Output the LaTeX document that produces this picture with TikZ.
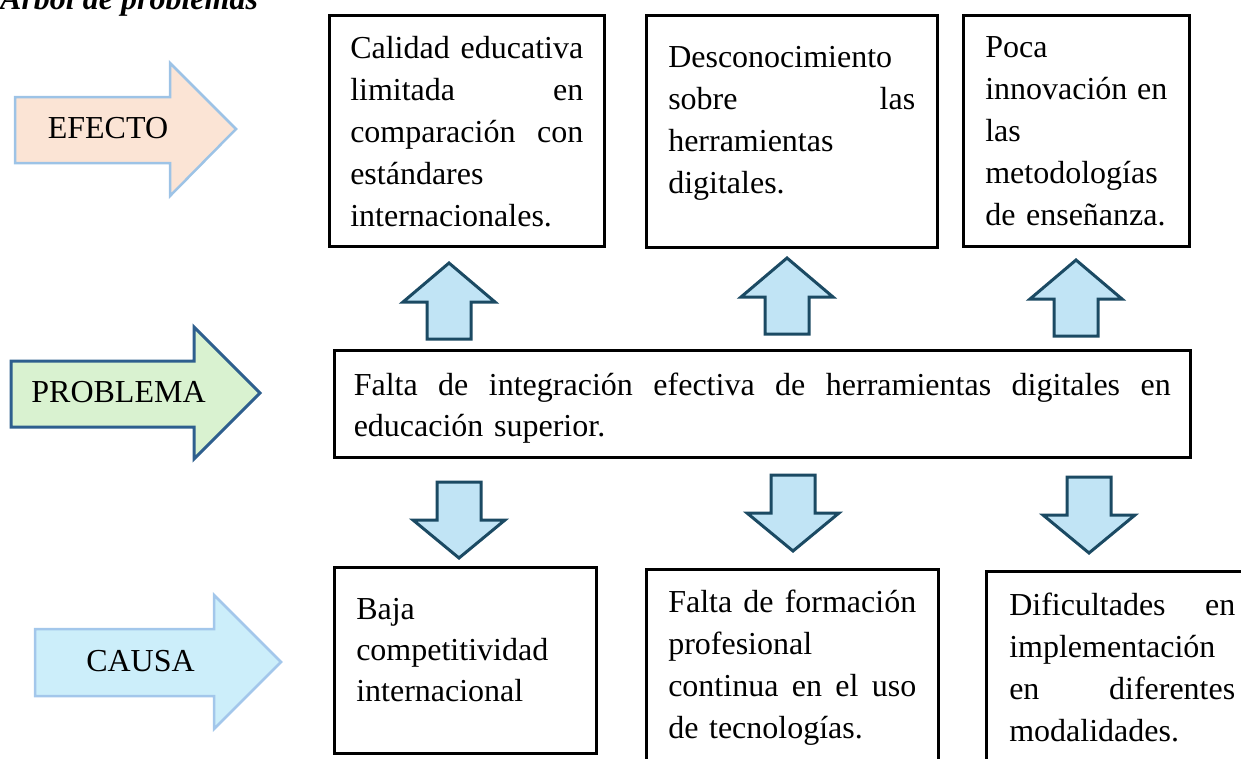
\documentclass[tikz,border=0pt]{standalone}
\usepackage{fontspec}
\setmainfont{Liberation Serif}

\definecolor{efectofill}{HTML}{FBE4D5}
\definecolor{efectodraw}{HTML}{9DC3E6}
\definecolor{problemafill}{HTML}{D9F2D0}
\definecolor{problemadraw}{HTML}{2E5F8E}
\definecolor{causafill}{HTML}{CCEEFA}
\definecolor{causadraw}{HTML}{A3C7EB}
\definecolor{flechafill}{HTML}{C1E4F5}
\definecolor{flechadraw}{HTML}{1B4A63}

\newcommand{\jl}[1]{\makebox[\hsize][s]{\spaceskip=0pt\xspaceskip=0pt #1}}

\tikzset{
  caja/.style={draw=black, line width=2.5pt, anchor=north west, inner ysep=0pt,
    align=left, font=\fontsize{32}{42}\selectfont},
  rotulo/.style={anchor=base, inner sep=0pt, font=\fontsize{32}{38}\selectfont},
  flecha/.style={draw=flechadraw, fill=flechafill, line width=3pt},
}

\begin{document}
\begin{tikzpicture}[x=1pt,y=-1pt]
\useasboundingbox (0,0) rectangle (1241,758);
\clip (0,0) rectangle (1241,758);

\node[anchor=base west, inner sep=0pt, font=\fontsize{32}{38}\selectfont\bfseries\itshape] (titulo) at (0,9) {Árbol de problemas};

% flechas grandes de la izquierda
\draw[fill=efectofill, draw=efectodraw, line width=2.5pt]
  (15,97) -- (170,97) -- (170,63) -- (236,129) -- (170,196) -- (170,163) -- (15,163) -- cycle;
\node[rotulo] (efecto) at (108,138) {EFECTO};
\draw[fill=problemafill, draw=problemadraw, line width=3pt]
  (11,361) -- (194,361) -- (194,327) -- (260,393) -- (194,459) -- (194,427) -- (11,427) -- cycle;
\node[rotulo] (problema) at (118.5,402) {PROBLEMA};
\draw[fill=causafill, draw=causadraw, line width=2.5pt]
  (35,629) -- (214,629) -- (214,595) -- (281,662) -- (214,729) -- (214,696) -- (35,696) -- cycle;
\node[rotulo] (causa) at (140.5,671) {CAUSA};

% efectos
\node[caja, text width=233pt, inner xsep=21pt, text height=43pt, text depth=188pt] (e1) at (328,14)
  {\jl{Calidad educativa}\\ \jl{limitada en}\\ \jl{comparación con}\\ estándares\\ internacionales.};
\node[caja, text width=247pt, inner xsep=22pt, text height=52pt, text depth=180pt] (e2) at (645,14)
  {Desconocimiento\\ \jl{sobre las}\\ herramientas\\ digitales.};
\node[caja, text width=182pt, inner xsep=22pt, text height=42pt, text depth=189pt] (e3) at (962,14)
  {Poca\\ \jl{innovación en}\\ las\\ metodologías\\ de enseñanza.};

% problema
\node[caja, text width=817pt, inner xsep=19.5pt, text height=45pt, text depth=62pt,
  font=\fontsize{32}{41}\selectfont] (p) at (333,349)
  {\jl{Falta de integración efectiva de herramientas digitales en}\\ educación superior.};

% causas
\node[caja, text width=218pt, inner xsep=22pt, text height=52pt, text depth=134pt,
  font=\fontsize{32}{41}\selectfont] (c1) at (333,566)
  {Baja\\ competitividad\\ internacional};
\node[caja, text width=248pt, inner xsep=22pt, text height=43pt, text depth=169pt] (c2) at (645,568)
  {\jl{Falta de formación}\\ profesional\\ \jl{continua en el uso}\\ de tecnologías.};
\node[caja, text width=226pt, inner xsep=23pt, text height=44pt, text depth=166pt] (c3) at (985,570)
  {\jl{Dificultades en}\\ implementación\\ \jl{en diferentes}\\ modalidades.};

% flechas pequenas
\foreach \x/\y in {449/263, 787/258, 1076/260}
  \draw[flecha] (\x,\y) -- ++(46,39) -- ++(-24,0) -- ++(0,37) -- ++(-44,0) -- ++(0,-37) -- ++(-24,0) -- cycle;
\foreach \x/\y in {459/558, 793/551, 1089/553}
  \draw[flecha] (\x,\y) -- ++(46,-38) -- ++(-24,0) -- ++(0,-38) -- ++(-44,0) -- ++(0,38) -- ++(-24,0) -- cycle;
\end{tikzpicture}
\end{document}
